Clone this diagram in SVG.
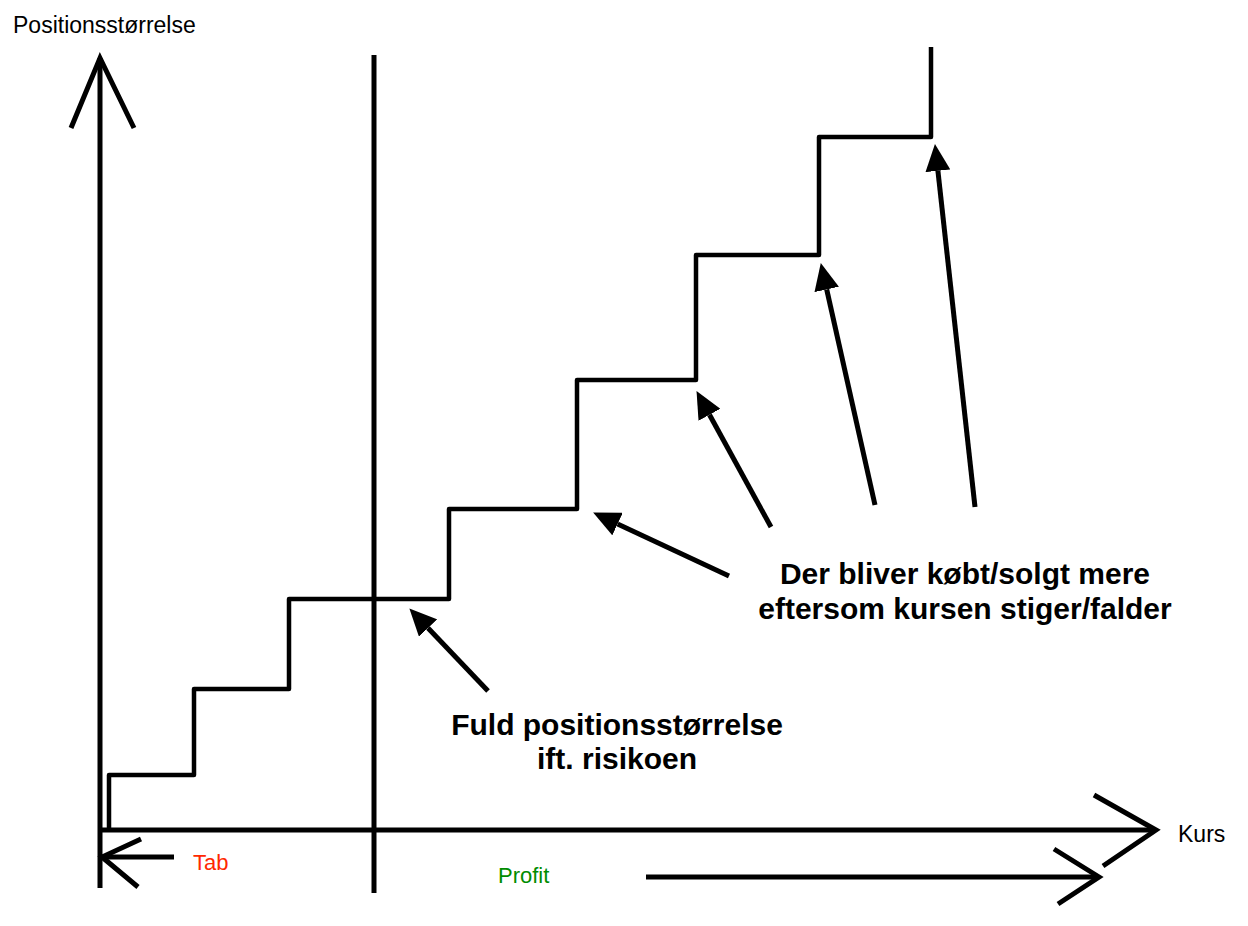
<svg xmlns="http://www.w3.org/2000/svg" width="1248" height="926" viewBox="0 0 1248 926">
  <style>
    .ax { fill: none; stroke: #000; stroke-width: 5; stroke-linecap: butt; stroke-linejoin: miter; }
    .stair { fill: none; stroke: #000; stroke-width: 4.5; stroke-linejoin: round; }
    .ptr { fill: none; stroke: #000; stroke-width: 5; }
    .lbl { font-family: "Liberation Sans", Arial, sans-serif; font-size: 23px; fill: #000; }
    .note { font-family: "Liberation Sans", Arial, sans-serif; font-size: 30px; font-weight: bold; fill: #000; text-anchor: middle; }
  </style>
  <defs>
    <marker id="head" markerUnits="userSpaceOnUse" markerWidth="27" markerHeight="25" refX="0" refY="12.5" orient="auto" viewBox="0 0 27 25">
      <path d="M0,0 L27,12.5 L0,25 Z" fill="#000"/>
    </marker>
  </defs>
  <rect width="1248" height="926" fill="#fff"/>

  <g id="axes">
    <line class="ax" x1="100" y1="58" x2="100" y2="888"/>
    <polyline class="ax" points="71,128 100,58 134,128"/>
    <line class="ax" x1="98" y1="830" x2="1155" y2="830"/>
    <polyline class="ax" points="1094,795 1156,830 1103,866"/>
    <line class="ax" x1="374" y1="55" x2="374" y2="893"/>
  </g>

  <g id="staircase">
    <polyline class="stair" points="109,830 109,775 194,775 194,689 289,689 289,599 449,599 449,509 577,509 577,380 696,380 696,255 819,255 819,137 931,137 931,47"/>
  </g>

  <g id="direction-arrows">
    <line class="ax" x1="101" y1="857" x2="174" y2="857"/>
    <polyline class="ax" points="141,839 102,857 138,887"/>
    <line class="ax" x1="646" y1="877" x2="1098" y2="877"/>
    <polyline class="ax" points="1054,849 1099,877 1058,904"/>
  </g>

  <g id="connectors">
    <line class="ptr" x1="488" y1="691" x2="428" y2="628" marker-end="url(#head)"/>
    <line class="ptr" x1="729" y1="576" x2="617.6" y2="524" marker-end="url(#head)"/>
    <line class="ptr" x1="771" y1="527" x2="709.5" y2="414.8" marker-end="url(#head)"/>
    <line class="ptr" x1="875" y1="505" x2="826.7" y2="289.4" marker-end="url(#head)"/>
    <line class="ptr" x1="975" y1="507" x2="937.9" y2="170.8" marker-end="url(#head)"/>
  </g>

  <g id="label-y">
    <text class="lbl" x="13" y="33">Positionsstørrelse</text>
  </g>
  <g id="label-x">
    <text class="lbl" x="1178" y="842">Kurs</text>
  </g>
  <g id="label-tab">
    <text class="lbl" x="193" y="870" style="font-size:22px;fill:#ff2800">Tab</text>
  </g>
  <g id="label-profit">
    <text class="lbl" x="498" y="883" style="font-size:22px;fill:#008c00">Profit</text>
  </g>
  <g id="note-full">
    <text class="note" x="617" y="735">Fuld positionsstørrelse</text>
    <text class="note" x="617" y="769">ift. risikoen</text>
  </g>
  <g id="note-more">
    <text class="note" x="965" y="584">Der bliver købt/solgt mere</text>
    <text class="note" x="965" y="619">eftersom kursen stiger/falder</text>
  </g>
</svg>
